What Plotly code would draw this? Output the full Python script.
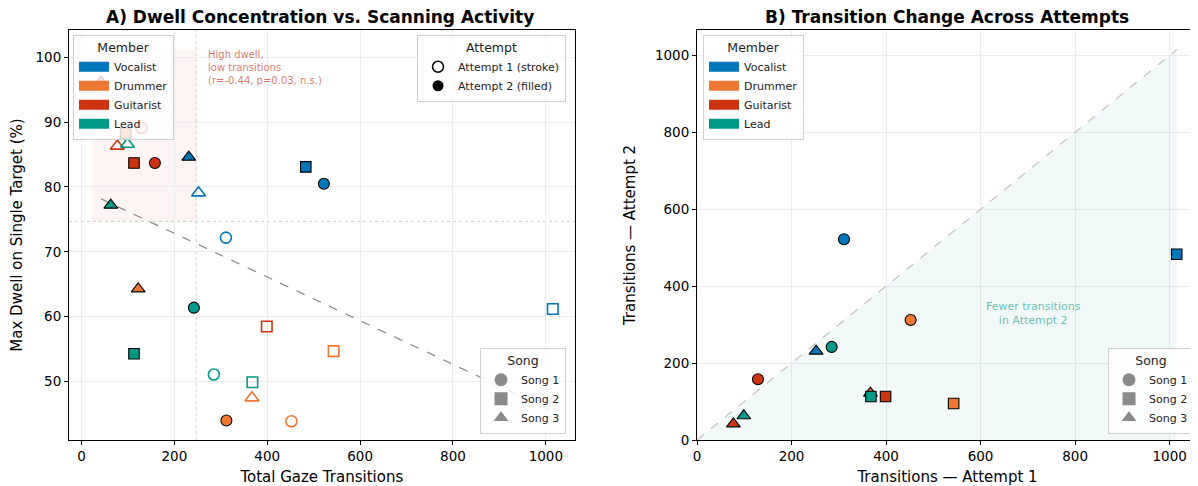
import numpy as np
import plotly.graph_objects as go

# ---------------- data ----------------
members = ["Vocalist", "Drummer", "Guitarist", "Lead"]
songs = ["Song 1", "Song 2", "Song 3"]
member_colors = ["#0077BB", "#EE7733", "#CC3311", "#009988"]
song_symbols = ["circle", "square", "triangle-up"]

# rows = members, columns = songs
trans_att1 = [[311, 1015, 252], [452, 543, 367], [129, 399, 77], [285, 368, 99]]
trans_att2 = [[522, 483, 231], [312, 95, 122], [158, 113, 42], [242, 113, 63]]
dwell_att1 = [[72.2, 61.2, 79.1], [43.9, 54.7, 47.5], [89.1, 58.5, 86.3], [51.1, 49.9, 86.6]]
dwell_att2 = [[80.5, 83.1, 84.6], [44.0, 88.3, 64.3], [83.7, 83.7, 96.2], [61.4, 54.3, 77.2]]

attempt_labels = ["Attempt 1 (stroke)", "Attempt 2 (filled)"]
title_a = "A) Dwell Concentration vs. Scanning Activity"
title_b = "B) Transition Change Across Attempts"
note_a = "High dwell,<br>low transitions<br>(r=-0.44, p=0.03, n.s.)"
note_b = "Fewer transitions<br>in Attempt 2"

FONT = "DejaVu Sans"
sizes = {"circle": 11, "square": 10.5, "triangle-up": 12}

fig = go.Figure()

all_x = np.array(trans_att1 + trans_att2, dtype=float).ravel()
all_y = np.array(dwell_att1 + dwell_att2, dtype=float).ravel()
med_x = float(np.median(all_x))
med_y = float(np.median(all_y))
slope, intercept = np.polyfit(all_x, all_y, 1)
xr = np.array([all_x.min(), all_x.max()])

# regression line (panel A)
fig.add_trace(go.Scatter(x=xr, y=slope * xr + intercept, mode="lines",
                         line=dict(color="#858585", width=1.2, dash="dash"),
                         showlegend=False, hoverinfo="skip", xaxis="x", yaxis="y"))

# panel B fill region and diagonal
m = float(max(np.max(trans_att1), np.max(trans_att2)))
fig.add_trace(go.Scatter(x=[0, m, m, 0], y=[0, m, 0, 0], mode="lines", fill="toself",
                         fillcolor="rgba(0,153,136,0.05)", line=dict(width=0),
                         showlegend=False, hoverinfo="skip", xaxis="x2", yaxis="y2"))
fig.add_trace(go.Scatter(x=[0, m], y=[0, m], mode="lines",
                         line=dict(color="#c4c4c4", width=1.3, dash="dash"),
                         showlegend=False, hoverinfo="skip", xaxis="x2", yaxis="y2"))

for i, mem in enumerate(members):
    c = member_colors[i]
    for j, s in enumerate(songs):
        sym = song_symbols[j]
        sz = sizes[sym]
        fig.add_trace(go.Scatter(x=[trans_att1[i][j]], y=[dwell_att1[i][j]], mode="markers",
                                 marker=dict(symbol=sym + "-open", color=c, size=sz,
                                             line=dict(width=1.6, color=c)),
                                 showlegend=False, xaxis="x", yaxis="y",
                                 name=f"{mem} {s} A1"))
        fig.add_trace(go.Scatter(x=[trans_att2[i][j]], y=[dwell_att2[i][j]], mode="markers",
                                 marker=dict(symbol=sym, color=c, size=sz,
                                             line=dict(width=1.1, color="black")),
                                 showlegend=False, xaxis="x", yaxis="y",
                                 name=f"{mem} {s} A2"))
for i, mem in enumerate(members):
    c = member_colors[i]
    for j, s in enumerate(songs):
        sym = song_symbols[j]
        sz = sizes[sym]
        fig.add_trace(go.Scatter(x=[trans_att1[i][j]], y=[trans_att2[i][j]], mode="markers",
                                 marker=dict(symbol=sym, color=c, size=sz,
                                             line=dict(width=1.1, color="black")),
                                 showlegend=False, xaxis="x2", yaxis="y2",
                                 name=f"{mem} {s}"))

# ---------------- legend entries ----------------
for lg, ax in (("legend", ("x", "y")), ("legend4", ("x2", "y2"))):
    for i, mem in enumerate(members):
        fig.add_trace(go.Scatter(x=[None], y=[None], mode="lines", name=mem,
                                 line=dict(color=member_colors[i], width=10),
                                 legend=lg, showlegend=True, xaxis=ax[0], yaxis=ax[1]))

fig.add_trace(go.Scatter(x=[None], y=[None], mode="markers", name=attempt_labels[0],
                         marker=dict(symbol="circle-open", color="black", size=11, line=dict(width=1.5)),
                         legend="legend2", showlegend=True))
fig.add_trace(go.Scatter(x=[None], y=[None], mode="markers", name=attempt_labels[1],
                         marker=dict(symbol="circle", color="black", size=11),
                         legend="legend2", showlegend=True))

for lg, ax in (("legend3", ("x", "y")), ("legend5", ("x2", "y2"))):
    for j, s in enumerate(songs):
        fig.add_trace(go.Scatter(x=[None], y=[None], mode="markers", name=s,
                                 marker=dict(symbol=song_symbols[j], color="#8a8a8a", size=13),
                                 legend=lg, showlegend=True, xaxis=ax[0], yaxis=ax[1]))

# ---------------- shapes ----------------
shapes = [
    dict(type="rect", xref="x", yref="y", x0=all_x.min() - 20, x1=med_x, y0=med_y, y1=all_y.max() + 5,
         fillcolor="rgba(204,51,17,0.05)", line=dict(width=0), layer="below"),
    dict(type="line", xref="x", yref="y domain", x0=med_x, x1=med_x, y0=0, y1=1,
         line=dict(color="#cfcfcf", width=1, dash="dot"), layer="below"),
    dict(type="line", xref="x domain", yref="y", x0=0, x1=1, y0=med_y, y1=med_y,
         line=dict(color="#cfcfcf", width=1, dash="dot"), layer="below"),
]

# The page body has an 8px margin: lay the figure out in screen pixels minus that offset.
OFF = 8
W, H = 1198 - OFF, 486 - OFF
L, R, T, B = 69 - OFF, 0, 30 - OFF, 46
pw = W - L - R
ph = H - T - B

def px_x(p):  # screen px -> paper
    return (p - OFF - L) / pw

def px_y(p):
    return (H - B - (p - OFF)) / ph

annotations = [
    dict(text=f"<b>{title_a}</b>", xref="paper", yref="paper", x=px_x(320), y=px_y(17.5),
         xanchor="center", yanchor="middle", showarrow=False, borderpad=0,
         font=dict(size=17, family=FONT)),
    dict(text=f"<b>{title_b}</b>", xref="paper", yref="paper", x=px_x(947), y=px_y(17.5),
         xanchor="center", yanchor="middle", showarrow=False, borderpad=0,
         font=dict(size=17, family=FONT)),
    dict(text=note_a, xref="x", yref="y", x=med_x + 22, y=101.6, xanchor="left", yanchor="top",
         align="left", showarrow=False, font=dict(size=10, family=FONT, color="rgba(204,51,17,0.68)")),
    dict(text=note_b, xref="x2", yref="y2", x=711, y=330, xanchor="center", yanchor="middle",
         align="center", showarrow=False, font=dict(size=11, family=FONT, color="rgba(0,153,136,0.62)")),
]

axis_common = dict(showline=True, linecolor="black", linewidth=1, ticks="outside", ticklen=4,
                   tickcolor="black", showgrid=True, gridcolor="#ececec", gridwidth=1,
                   zeroline=False, automargin=False,
                   tickfont=dict(size=13.5, family=FONT, color="black"))

legend_common = dict(bgcolor="rgba(255,255,255,0.82)", bordercolor="#d0d0d0", borderwidth=1,
                     font=dict(size=11, family=FONT, color="#222"), tracegroupgap=0,
                     itemclick=False, itemdoubleclick=False)

def leg(title, x, y, xa, ya):
    d = dict(legend_common)
    d.update(title=dict(text=title, side="top center", font=dict(size=12.5, family=FONT, color="#222")),
             x=x, y=y, xanchor=xa, yanchor=ya)
    return d

fig.update_layout(
    width=W, height=H, margin=dict(l=L, r=R, t=T, b=B, autoexpand=False),
    plot_bgcolor="white", paper_bgcolor="white",
    font=dict(family=FONT, size=13, color="black"),
    shapes=shapes, annotations=annotations,
    xaxis=dict(domain=[0, px_x(574.6)], range=[-27, 1062], anchor="y", mirror=True,
               tickvals=[0, 200, 400, 600, 800, 1000],
               title=dict(text="Total Gaze Transitions", font=dict(size=15, family=FONT)),
               **axis_common),
    yaxis=dict(domain=[0, 1], range=[41.0, 104.2], anchor="x", mirror=True,
               tickvals=[50, 60, 70, 80, 90, 100],
               title=dict(text="Max Dwell on Single Target (%)", font=dict(size=15, family=FONT)),
               **axis_common),
    xaxis2=dict(domain=[px_x(697), 1], range=[0, 1060], anchor="y2", mirror=True,
                tickvals=[0, 200, 400, 600, 800, 1000],
                title=dict(text="Transitions — Attempt 1", font=dict(size=15, family=FONT)),
                **axis_common),
    yaxis2=dict(domain=[0, 1], range=[0, 1066], anchor="x2", mirror=False,
                tickvals=[0, 200, 400, 600, 800, 1000],
                title=dict(text="Transitions — Attempt 2", font=dict(size=15, family=FONT)),
                **axis_common),
    legend=leg("Member", px_x(73), px_y(35), "left", "top"),
    legend2=leg("Attempt", px_x(566), px_y(35), "right", "top"),
    legend3=leg("Song", px_x(566), px_y(434), "right", "bottom"),
    legend4=leg("Member", px_x(703), px_y(35), "left", "top"),
    legend5=leg("Song", px_x(1194), px_y(434), "right", "bottom"),
)

fig.write_html("out.html")
